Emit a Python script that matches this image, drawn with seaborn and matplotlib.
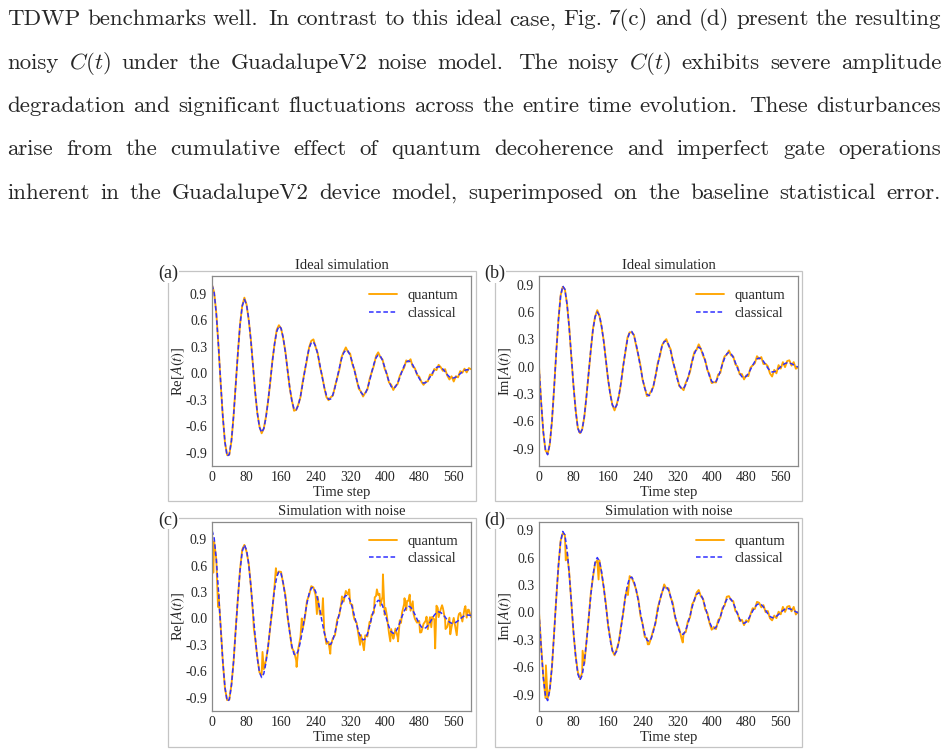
import numpy as np
import pandas as pd
import matplotlib
matplotlib.use("Agg")
import matplotlib.pyplot as plt
from matplotlib.patches import Rectangle
import seaborn as sns

# ---- data ----
# time grid of the classical reference curves (every 5 steps)
time_step = np.arange(0, 601, 5)

classical_re = [
    1.0, 0.913, 0.669, 0.310, -0.099, -0.486, -0.782, -0.936,
    -0.922, -0.762, -0.483, -0.131, 0.232, 0.547, 0.761, 0.835,
    0.778, 0.615, 0.371, 0.083, -0.206, -0.450, -0.613, -0.670,
    -0.626, -0.502, -0.314, -0.090, 0.136, 0.334, 0.472, 0.533,
    0.508, 0.402, 0.236, 0.037, -0.157, -0.314, -0.405,
    -0.415, -0.363, -0.260, -0.122, 0.029, 0.171, 0.283, 0.346,
    0.353, 0.306, 0.215, 0.094, -0.037, -0.158, -0.249, -0.296,
    -0.292, -0.244, -0.159, -0.053, 0.060, 0.160, 0.231, 0.262,
    0.251, 0.202, 0.124, 0.029, -0.069, -0.156, -0.217, -0.244,
    -0.231, -0.175, -0.089, 0.012, 0.105, 0.175, 0.206,
    0.194, 0.146, 0.070, -0.016, -0.095, -0.150, -0.170,
    -0.155, -0.112, -0.050, 0.020, 0.082, 0.125, 0.140,
    0.128, 0.095, 0.046, -0.008, -0.059, -0.096, -0.112,
    -0.107, -0.082, -0.045, -0.002, 0.038, 0.065, 0.075,
    0.067, 0.046, 0.016, -0.016, -0.041, -0.055,
    -0.054, -0.044, -0.027, -0.006, 0.015, 0.031, 0.039, 0.038, 0.035,
]

classical_im = [
    0.0, -0.389, -0.714, -0.918, -0.966, -0.852, -0.592, -0.236,
    0.156, 0.512, 0.772, 0.886, 0.848, 0.685, 0.425, 0.108,
    -0.214, -0.489, -0.675, -0.740, -0.689, -0.544, -0.327, -0.070,
    0.187, 0.404, 0.549, 0.600, 0.560, 0.445, 0.273, 0.070,
    -0.133, -0.305, -0.420, -0.460, -0.424, -0.323, -0.173, 0.000,
    0.167, 0.300, 0.377, 0.386, 0.340, 0.250, 0.129, -0.006,
    -0.135, -0.239, -0.303, -0.319, -0.286, -0.209, -0.102, 0.019,
    0.134, 0.224, 0.276, 0.282, 0.244, 0.171, 0.073, -0.033,
    -0.131, -0.204, -0.242, -0.238, -0.196, -0.125, -0.034, 0.060,
    0.141, 0.196, 0.215, 0.195, 0.141, 0.062, -0.027, -0.106,
    -0.160, -0.180, -0.163, -0.116, -0.049, 0.027, 0.094, 0.141,
    0.158, 0.143, 0.103, 0.045, -0.019, -0.075, -0.111, -0.120,
    -0.106, -0.074, -0.031, 0.015, 0.057, 0.085, 0.095, 0.085,
    0.059, 0.022, -0.015, -0.044, -0.058, -0.055, -0.043, -0.023,
    -0.001, 0.020, 0.035, 0.042, 0.040, 0.032, 0.020, 0.007, -0.005,
]

# quantum result = classical + deviation (deviations in units of 0.01)
ideal_re_dev = [
    0, 0, 1, 0, -1, 0, 0, 1, 0, -1,
    0, 1, 0, 1, 0, 2, 0, -1, 1, 0,
    -1, 0, 1, -1, 0, 1, 0, -1, 1, 0,
    2, 1, 0, -1, 1, 0, -1, 1, -2, 0,
    1, -1, 2, 0, -2, 1, 2, 3, -1, 1,
    -2, 1, 0, -2, -1, 2, -1, 1, 0, -2,
    2, 1, 3, -1, 2, -2, 1, 0, -2, 1,
    -2, 1, -1, 2, 0, -2, 2, 3, -1, 1,
    -2, 1, -1, 2, -2, 1, -1, 2, 0, -2,
    2, -1, 3, -2, 1, -1, 2, 0, -2, 1,
    -1, 3, -2, 1, -3, 2, 0, -2, 3, -1,
    -3, 2, -4, 1, -2, 3, -1, 2, -3, 2,
    1,
]
ideal_im_dev = [
    0, 0, -1, 0, 1, 0, -1, 0, 1, 0,
    1, -1, 0, 0, 1, -1, 0, 1, 0, 1,
    0, -1, 1, 0, -1, 1, 0, 2, 0, -1,
    1, 0, -1, 1, 0, -2, 1, 0, -1, 1,
    -1, 2, 0, -1, 1, -2, 0, 2, -1, 1,
    -2, 1, 2, -1, 0, 2, -2, 1, 0, 2,
    -1, 2, -2, 1, 2, -1, 1, -2, 2, 0,
    -2, 1, 2, -1, 3, 0, -2, 1, -1, 2,
    -2, 1, -1, 3, -2, 1, 2, -1, 2, -2,
    1, -2, 2, -1, 3, -2, 1, -3, 2, 0,
    -2, 3, -1, 2, -3, 1, 2, -3, -5, 2,
    -3, 4, -2, 3, -4, 2, 3, -2, 3, -3,
    0,
]
noise_re_dev = [
    0, -4, 0, -3, 2, 0, -1, 1, 0, 1,
    -1, 2, 0, 1, 2, 0, -2, 1, 0, -3,
    -2, 1, 0, 3, 5, 3, -1, 0, -3, 4,
    2, 0, 2, -1, 3, -2, 1, -2, 3, -6,
    2, 5, 0, -3, 3, -2, 2, 0, -4, 3,
    -5, 8, 2, -4, 3, -2, 2, -3, 4, -2,
    3, -4, 5, 2, -3, 3, -4, 2, -5, 3,
    -6, 4, -3, 5, 3, -4, 8, 6, -5, 10,
    -3, 5, -7, 3, -6, 4, -10, 3, 4, 8,
    -3, 6, -4, 10, -5, -4, 3, -6, 5, 8,
    -4, 6, 2, -5, 8, -6, 4, 7, -3, -8,
    5, -4, 6, -9, 3, 7, -5, 8, -3, 6,
    -2,
]
noise_im_dev = [
    0, 2, 1, -2, 2, 1, -1, 2, 0, -1,
    1, -2, 0, -3, 1, 0, -2, 1, 2, 1,
    3, -2, 1, 0, 2, -2, -1, -3, 1, -2,
    0, 2, -1, 2, 0, -1, 2, 0, 2, -1,
    1, -2, 2, -1, -2, 0, 2, -3, 1, -3,
    2, -3, 1, 2, -2, 3, 0, -1, 3, -2,
    2, -1, 3, -2, 1, 2, -4, 1, -2, 3,
    -2, 3, -1, 2, 3, -2, 1, -3, 2, -1,
    -3, 2, -2, 3, -1, 2, -2, 3, 2, -1,
    2, -3, 1, -2, 3, -2, 2, -3, 1, 3,
    -2, 3, 1, -3, 2, -2, 3, -2, -3, 2,
    -2, 3, -2, 4, -3, 2, 3, -2, 4, -3,
    1,
]

# single-step spikes of the noisy runs: (time step, value)
noise_re_spikes = [
    (3, 0.52), (14, 0.13), (97, -0.12), (117, -0.38), (148, 0.57),
    (196, -0.55), (208, 0.0), (243, 0.05), (257, 0.23), (274, -0.40),
    (301, 0.25), (318, 0.33), (327, 0.05), (343, -0.30), (352, -0.36),
    (367, -0.05), (377, 0.24), (382, 0.33), (388, 0.28), (396, 0.50),
    (402, 0.12), (413, -0.26), (421, -0.22), (431, -0.26), (438, -0.05),
    (446, 0.23), (452, 0.20), (458, 0.27), (467, 0.05), (482, -0.16),
    (497, 0.02), (508, -0.10), (517, -0.34), (523, 0.12), (533, 0.15),
    (541, -0.12), (552, -0.18), (567, -0.19), (572, 0.05), (587, 0.14),
    (593, 0.10),
]
noise_im_spikes = [
    (16, -0.58), (62, 0.57), (101, -0.42), (138, 0.36), (206, 0.19),
    (226, 0.22), (252, -0.35), (333, -0.33),
]

para_lines = [
    "TDWP benchmarks well. In contrast to this ideal case, Fig. 7(c) and (d) present the resulting",
    "noisy $C(t)$ under the GuadalupeV2 noise model. The noisy $C(t)$ exhibits severe amplitude",
    "degradation and significant fluctuations across the entire time evolution. These disturbances",
    "arise from the cumulative effect of quantum decoherence and imperfect gate operations",
    "inherent in the GuadalupeV2 device model, superimposed on the baseline statistical error.",
]

# ---- style ----
sns.set_style("white")
plt.rcParams["font.family"] = ["Liberation Serif", "DejaVu Serif"]
plt.rcParams["mathtext.fontset"] = "stix"
plt.rcParams["axes.unicode_minus"] = False
plt.rcParams["lines.dashed_pattern"] = [3.0, 1.7]

W, H = 947, 753
fig = plt.figure(figsize=(W / 100, H / 100), dpi=100)


def quantum_frame(base, dev, spikes):
    t = list(time_step) + [s[0] for s in spikes]
    v = list(np.array(base) + np.array(dev) * 0.01) + [s[1] for s in spikes]
    return pd.DataFrame({"t": t, "v": v})


panels = [
    # label, box (left, top, right, bottom in px), title, ylabel, classical, dev, spikes, ylim
    ("(a)", (212, 276, 471, 466), "Ideal simulation", "Re[$A(t)$]",
     classical_re, ideal_re_dev, [], (-1.05, 1.10)),
    ("(b)", (539, 276, 798, 466), "Ideal simulation", "Im[$A(t)$]",
     classical_im, ideal_im_dev, [], (-1.09, 0.995)),
    ("(c)", (212, 521.5, 471, 711), "Simulation with noise", "Re[$A(t)$]",
     classical_re, noise_re_dev, noise_re_spikes, (-1.05, 1.10)),
    ("(d)", (539, 521.5, 798, 711), "Simulation with noise", "Im[$A(t)$]",
     classical_im, noise_im_dev, noise_im_spikes, (-1.08, 0.995)),
]
frames = [(168, 271, 476, 500.5), (495, 271, 802, 500.5),
          (168, 517.5, 476, 747), (495, 517.5, 802, 747)]

for (label, box, title, ylab, cl, dev, spikes, ylim), fr in zip(panels, frames):
    l, t, r, b = box
    ax = fig.add_axes([l / W, 1 - b / H, (r - l) / W, (b - t) / H])

    dq = quantum_frame(cl, dev, spikes)
    dc = pd.DataFrame({"t": time_step, "v": cl})
    sns.lineplot(data=dq, x="t", y="v", ax=ax, color="orange", lw=1.35,
                 estimator=None, sort=True, label="quantum")
    sns.lineplot(data=dc, x="t", y="v", ax=ax, color="#2f2fff", lw=1.1,
                 linestyle="--", estimator=None, sort=True, label="classical")

    ax.set_xlim(0, 600)
    ax.set_ylim(*ylim)
    ax.set_xticks(range(0, 561, 80))
    yt = [-0.9, -0.6, -0.3, 0.0, 0.3, 0.6, 0.9]
    ax.set_yticks(yt)
    ax.set_yticklabels([f"{v:.1f}" for v in yt])
    ax.tick_params(length=0, pad=3.5, labelsize=10)
    for s in ax.spines.values():
        s.set_color("#8a8a8a")
        s.set_linewidth(0.9)
    ax.set_title(title, fontsize=10.5, pad=5)
    ax.set_xlabel("Time step", fontsize=10.5, labelpad=1.5)
    ax.set_ylabel(ylab, fontsize=10.5, labelpad=-1)
    ax.legend(loc="upper right", frameon=False, fontsize=10.5, handlelength=1.9,
              handletextpad=0.7, labelspacing=0.3)

    # light box around each sub-figure, label sitting on its corner
    x0, y0, x1, y1 = fr
    fig.add_artist(Rectangle((x0 / W, 1 - y1 / H), (x1 - x0) / W, (y1 - y0) / H,
                             transform=fig.transFigure, fill=False,
                             edgecolor="#c4c4c4", lw=0.9, zorder=0))
    fig.text(x0 / W, 1 - (y0 + 2.5) / H, label, fontsize=13, ha="center", va="center",
             bbox=dict(facecolor="white", edgecolor="none", pad=0.5), zorder=5)

# ---- paragraph above the figure, justified like the page ----
renderer = fig.canvas.get_renderer()
left_px, right_px = 7, 941
baselines = [25.3, 68.6, 112.0, 155.3, 198.7]
for line, base in zip(para_lines, baselines):
    words = line.split(" ")
    texts = [fig.text(0, 1 - base / H, w, fontsize=16.5, family="cmr10",
                      math_fontfamily="cm", va="baseline", ha="left") for w in words]
    widths = [tx.get_window_extent(renderer).width for tx in texts]
    weights = [1.4 if (w.endswith(".") and w != "Fig.") else 1.0 for w in words[:-1]]
    gap = (right_px - left_px - sum(widths)) / sum(weights)
    x = left_px
    for k, tx in enumerate(texts):
        tx.set_x(x / W)
        x += widths[k] + (gap * weights[k] if k < len(weights) else 0)

fig.savefig("out.png", dpi=100)
